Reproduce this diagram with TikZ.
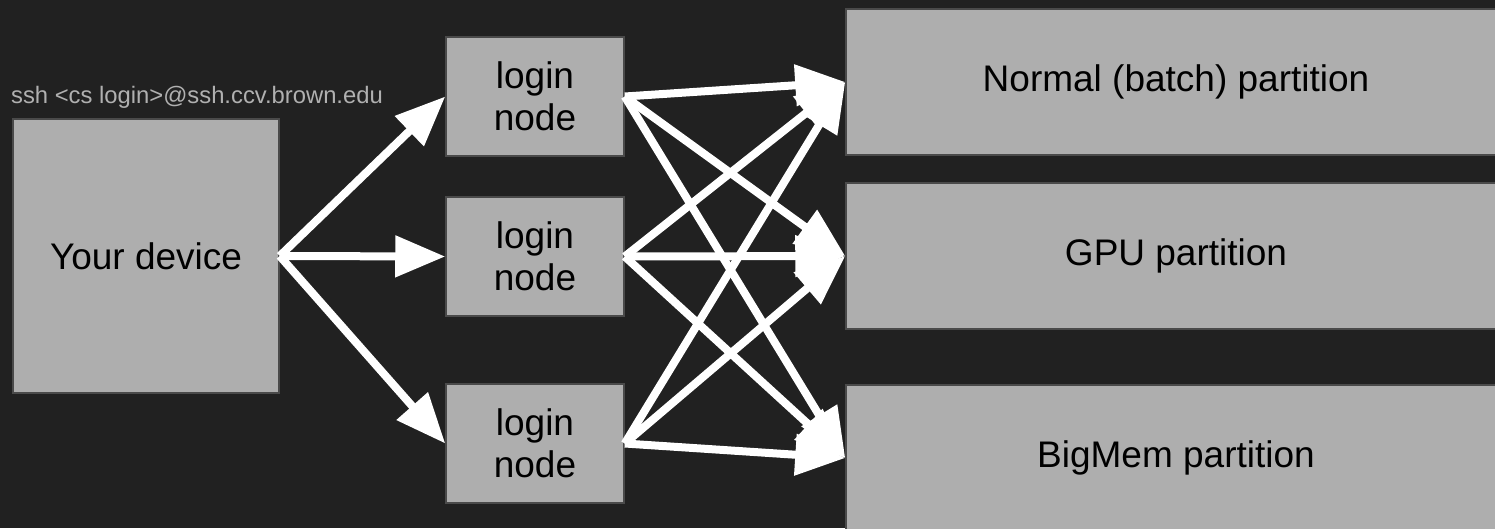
\documentclass[tikz,border=0pt]{standalone}
\usepackage{fontspec}
\setmainfont{Liberation Sans}
\usetikzlibrary{arrows.meta}
\definecolor{bg}{HTML}{212121}
\definecolor{boxfill}{HTML}{AEAEAE}
\definecolor{boxline}{HTML}{4A4A4A}
\definecolor{sshgray}{HTML}{B0B0B0}
\tikzset{
  box/.style={draw=boxline, line width=1.5pt, fill=boxfill, inner sep=0pt, align=center,
    font=\fontsize{37}{42}\selectfont, text=black},
  conn/.style={draw=white, line width=8pt, -{Triangle[length=50pt,width=40pt]}},
}
\begin{document}
\begin{tikzpicture}[x=1pt,y=-1pt]
\fill[bg] (0,0) rectangle (1495,528);
\useasboundingbox (0,0) rectangle (1495,528);
\node[box, minimum width=266pt, minimum height=274pt] (dev) at (146,256) {Your device};
\node[box, minimum width=178pt, minimum height=119pt] (l1) at (535,96.5) {login\\node};
\node[box, minimum width=178pt, minimum height=119pt] (l2) at (535,256.5) {login\\node};
\node[box, minimum width=178pt, minimum height=119pt] (l3) at (535,443.5) {login\\node};
\node[box, minimum width=660pt, minimum height=146pt] (p1) at (1176,82) {Normal (batch) partition};
\node[box, minimum width=660pt, minimum height=146pt] (p2) at (1176,256) {GPU partition};
\node[box, minimum width=660pt, minimum height=146pt] (p3) at (1176,458) {BigMem partition};
\node[anchor=base west, inner sep=0pt, text=sshgray, font=\fontsize{23.8}{28}\selectfont] (ssh) at (11,103) {ssh <cs login>@ssh.ccv.brown.edu};
\draw[conn] (dev.east) -- (l1.west);
\draw[conn] (dev.east) -- (l2.west);
\draw[conn] (dev.east) -- (l3.west);
\foreach \l in {l1,l2,l3}{
  \foreach \p in {p1,p2,p3}{
    \draw[conn] (\l.east) -- (\p.west);
  }
}
\end{tikzpicture}
\end{document}
